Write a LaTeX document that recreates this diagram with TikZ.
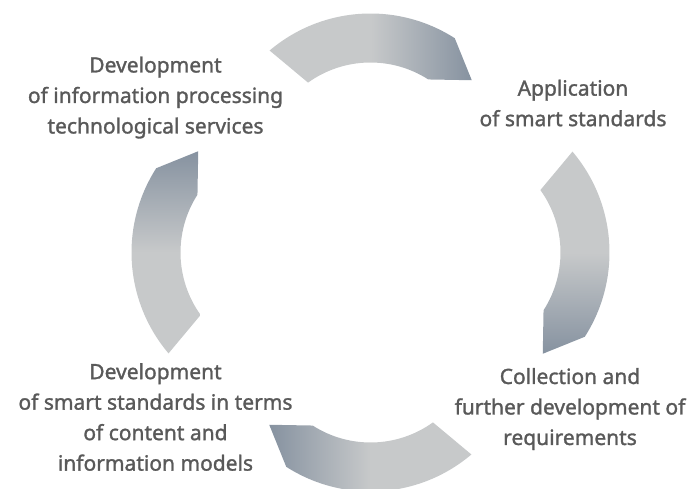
\documentclass[tikz,border=0pt]{standalone}
\usepackage{fontspec}
\setmainfont{Noto Sans}
\newfontfamily\labelfont{Noto Sans}[FakeBold=1.4]
\usetikzlibrary{calc}
\definecolor{lightarc}{RGB}{199,201,202}
\definecolor{darkarc}{RGB}{134,146,160}
\definecolor{txt}{RGB}{89,89,89}
\tikzset{
  label/.style={align=center, text=txt, font=\labelfont\fontsize{21}{30.5}\selectfont, inner sep=0pt},
}
\begin{document}
\begin{tikzpicture}[x=1pt,y=1pt]
\useasboundingbox (0,0) rectangle (691,488);
\clip (0,0) rectangle (691,488);
\coordinate (ctop) at (370.5,318.5);
\coordinate (cright) at (453.5,235.5);
\coordinate (cbottom) at (370.5,152.5);
\coordinate (cleft) at (287.5,235.5);
% top arrow
\path[shade, left color=lightarc, right color=darkarc, middle color=lightarc]
  ($(ctop)+(130.3:156pt)$) arc[start angle=130.3, end angle=57.3, radius=156pt]
  -- ($(ctop)+(41.4:135pt)$) -- ($(ctop)+(57.3:107pt)$)
  arc[start angle=57.3, end angle=125.7, radius=107pt] -- cycle;
% right arrow
\path[shade, top color=lightarc, bottom color=darkarc, middle color=lightarc]
  ($(cright)+(40.3:156pt)$) arc[start angle=40.3, end angle=-32.7, radius=156pt]
  -- ($(cright)+(-48.6:135pt)$) -- ($(cright)+(-32.7:107pt)$)
  arc[start angle=-32.7, end angle=35.7, radius=107pt] -- cycle;
% bottom arrow
\path[shade, right color=lightarc, left color=darkarc, middle color=lightarc]
  ($(cbottom)+(-49.7:156pt)$) arc[start angle=-49.7, end angle=-122.7, radius=156pt]
  -- ($(cbottom)+(-138.6:135pt)$) -- ($(cbottom)+(-122.7:107pt)$)
  arc[start angle=-122.7, end angle=-54.3, radius=107pt] -- cycle;
% left arrow
\path[shade, bottom color=lightarc, top color=darkarc, middle color=lightarc]
  ($(cleft)+(220.3:156pt)$) arc[start angle=220.3, end angle=147.3, radius=156pt]
  -- ($(cleft)+(131.4:135pt)$) -- ($(cleft)+(147.3:107pt)$)
  arc[start angle=147.3, end angle=215.7, radius=107pt] -- cycle;
% labels
\node[label] (n1) at (155.5,390.5) {Development\\of information processing\\technological services};
\node[label] (n2) at (573,385) {Application\\of smart standards};
\node[label] (n3) at (155.5,71) {Development\\of smart standards in terms\\of content and\\information models};
\node[label] (n4) at (570,79) {Collection and\\further development of\\requirements};
\end{tikzpicture}
\end{document}
